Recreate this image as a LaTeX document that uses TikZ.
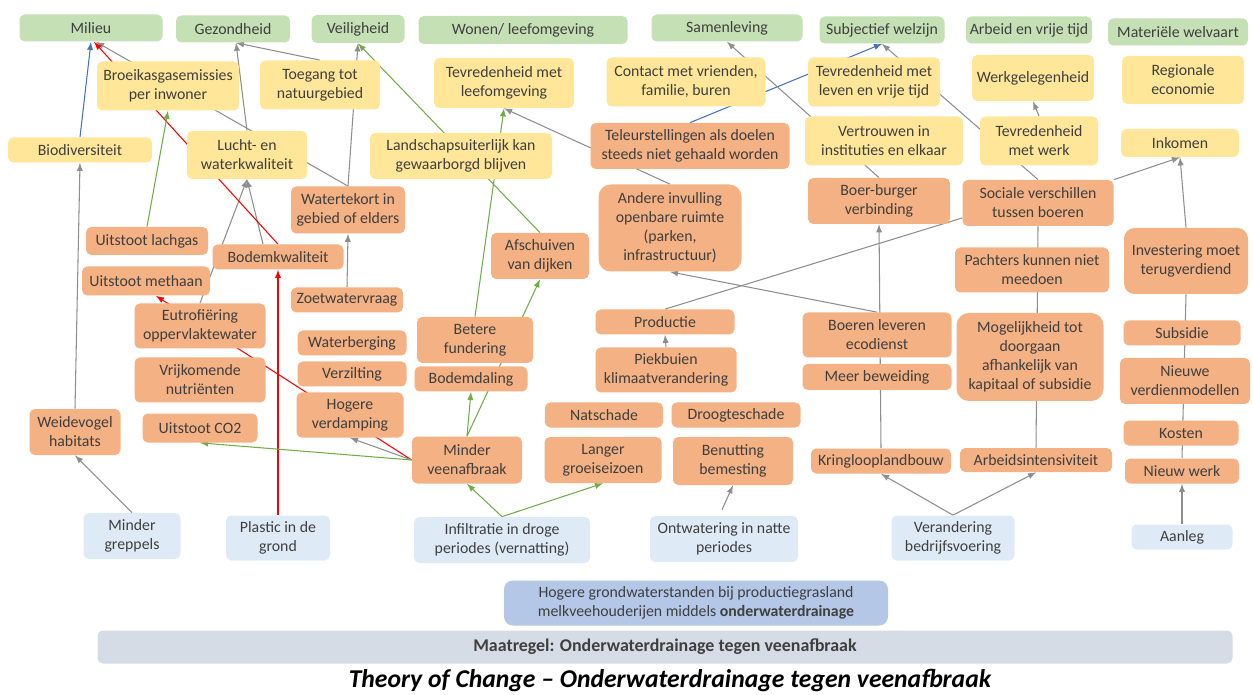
\documentclass[tikz,border=0pt]{standalone}
\usepackage{fontspec}
\setmainfont{Carlito}
\usetikzlibrary{backgrounds,calc}

\definecolor{groen}{HTML}{C5E0B4}
\definecolor{geel}{HTML}{FFE699}
\definecolor{oranje}{HTML}{F4B183}
\definecolor{lichtblauw}{HTML}{DEEBF7}
\definecolor{middenblauw}{HTML}{B4C7E7}
\definecolor{balk}{HTML}{D6DCE5}
\definecolor{tekst}{HTML}{3F3F3F}
\definecolor{lijngrijs}{HTML}{8E8E8E}
\definecolor{lijngroen}{HTML}{70AD47}
\definecolor{lijnrood}{HTML}{FF0000}
\definecolor{lijnblauw}{HTML}{4472C4}

\tikzset{
  vak/.style={rounded corners=3pt, inner sep=1pt, align=center, text=tekst,
    font=\fontsize{9}{10.8}\selectfont},
  thema/.style={vak, fill=groen},
  indicator/.style={vak, fill=geel},
  effect/.style={vak, fill=oranje},
  oorzaak/.style={vak, fill=lichtblauw},
  sz/.style 2 args={minimum width=#1*0.02cm, minimum height=#2*0.02cm},
  pijl/.style={->, line width=0.6pt, lijngrijs},
  lijn/.style={line width=0.6pt, lijngrijs},
  groenpijl/.style={->, line width=0.6pt, lijngroen},
  roodpijl/.style={->, line width=0.6pt, lijnrood},
  blauwpijl/.style={->, line width=0.6pt, lijnblauw},
}

\begin{document}
\begin{tikzpicture}[x=0.02cm, y=-0.02cm]
    \tikzset{>=latex}
    \useasboundingbox (0,0) rectangle (1253,695);

    % thema's
    \node[thema, sz={143}{27}] (milieu) at (91,28) {Milieu};
    \node[thema, sz={114}{27}] (gezond) at (233,29) {Gezondheid};
    \node[thema, sz={93}{28}] (veilig) at (358,29) {Veiligheid};
    \node[thema, sz={209}{28}] (wonen) at (523,30) {Wonen/ leefomgeving};
    \node[thema, sz={151}{27}] (samen) at (727,28) {Samenleving};
    \node[thema, sz={125}{27}] (subj) at (882,30) {Subjectief welzijn};
    \node[thema, sz={126}{27}] (arbeid) at (1029,30) {Arbeid en vrije tijd};
    \node[thema, sz={140}{27}] (materieel) at (1178,32) {Materiële welvaart};

    % indicatoren
    \node[indicator, sz={142}{49}] (broeikas) at (168,86) {Broeikasgasemissies\\per inwoner};
    \node[indicator, sz={120}{49}] (toegang) at (320,85) {Toegang tot\\natuurgebied};
    \node[indicator, sz={140}{50}] (tevleef) at (504,83) {Tevredenheid met\\leefomgeving};
    \node[indicator, sz={159}{49}] (contact) at (686,82) {Contact met vrienden,\\familie, buren};
    \node[indicator, sz={132}{49}] (tevleven) at (874,82) {Tevredenheid met\\leven en vrije tijd};
    \node[indicator, sz={122}{46}] (werkgel) at (1033,78) {Werkgelegenheid};
    \node[indicator, sz={122}{48}] (regio) at (1183,80) {Regionale\\economie};
    \node[indicator, sz={144}{25}] (biodiv) at (80,150) {Biodiversiteit};
    \node[indicator, sz={120}{48}] (lucht) at (247,155) {Lucht- en\\waterkwaliteit};
    \node[indicator, sz={182}{46}] (landschap) at (461,156) {Landschapsuiterlijk kan\\gewaarborgd blijven};
    \node[indicator, sz={158}{49}] (vertrouwen) at (884,141) {Vertrouwen in\\instituties en elkaar};
    \node[indicator, sz={118}{49}] (tevwerk) at (1039,141) {Tevredenheid\\met werk};
    \node[indicator, sz={118}{28}] (inkomen) at (1180,143) {Inkomen};

    % effecten
    \node[effect, sz={199}{46}] (teleur) at (690,146) {Teleurstellingen als doelen\\steeds niet gehaald worden};
    \node[effect, sz={114}{47}] (watertekort) at (348,210) {Watertekort in\\gebied of elders};
    \node[effect, sz={143}{87}, rounded corners=7pt] (andere) at (670,228) {Andere invulling\\openbare ruimte\\(parken,\\infrastructuur)};
    \node[effect, sz={142}{46}] (boerburger) at (879,201) {Boer-burger\\verbinding};
    \node[effect, sz={151}{46}] (sociaal) at (1038,203) {Sociale verschillen\\tussen boeren};
    \node[effect, sz={98}{46}] (afschuiven) at (540,256) {Afschuiven\\van dijken};
    \node[effect, sz={122}{28}] (lachgas) at (147,241) {Uitstoot lachgas};
    \node[effect, sz={131}{25}] (bodemkw) at (278,257) {Bodemkwaliteit};
    \node[effect, sz={128}{29}] (methaan) at (146,281) {Uitstoot methaan};
    \node[effect, sz={112}{25}] (zoetwater) at (347,300) {Zoetwatervraag};
    \node[effect, sz={154}{45}] (pachters) at (1032,270) {Pachters kunnen niet\\meedoen};
    \node[effect, sz={124}{66}, rounded corners=6pt] (investering) at (1186,261) {Investering moet\\terugverdiend};
    \node[effect, sz={131}{45}] (eutrof) at (200,326) {Eutrofiëring\\oppervlaktewater};
    \node[effect, sz={109}{25}] (waterberging) at (352,343) {Waterberging};
    \node[effect, sz={116}{46}] (fundering) at (475,340) {Betere\\fundering};
    \node[effect, sz={139}{25}] (productie) at (665,322) {Productie};
    \node[effect, sz={149}{45}] (ecodienst) at (877,335) {Boeren leveren\\ecodienst};
    \node[effect, sz={147}{88}, rounded corners=7pt] (mogelijk) at (1030,357) {Mogelijkheid tot\\doorgaan\\afhankelijk van\\kapitaal of subsidie};
    \node[effect, sz={117}{25}] (subsidie) at (1182,333) {Subsidie};
    \node[effect, sz={131}{45}] (nutrient) at (200,380) {Vrijkomende\\nutriënten};
    \node[effect, sz={109}{25}] (verzilting) at (352,374) {Verzilting};
    \node[effect, sz={113}{25}] (bodemdaling) at (471,379) {Bodemdaling};
    \node[effect, sz={141}{45}] (piekbuien) at (666,370) {Piekbuien\\klimaatverandering};
    \node[effect, sz={149}{26}] (beweiding) at (877,377) {Meer beweiding};
    \node[effect, sz={130}{46}] (verdien) at (1185,381) {Nieuwe\\verdienmodellen};
    \node[effect, sz={91}{46}] (weidevogel) at (75,432) {Weidevogel\\habitats};
    \node[effect, sz={115}{29}] (co2) at (200,428) {Uitstoot CO2};
    \node[effect, sz={107}{45}] (verdamping) at (350,415) {Hogere\\verdamping};
    \node[effect, sz={118}{25}] (natschade) at (604,415) {Natschade};
    \node[effect, sz={129}{25}] (droogte) at (736,415) {Droogteschade};
    \node[effect, sz={115}{25}] (kosten) at (1181,433) {Kosten};
    \node[effect, sz={110}{47}] (veenafbraak) at (467,460) {Minder\\veenafbraak};
    \node[effect, sz={117}{46}] (groeiseizoen) at (603,460) {Langer\\groeiseizoen};
    \node[effect, sz={120}{48}] (bemesting) at (733,461) {Benutting\\bemesting};
    \node[effect, sz={140}{25}] (kringloop) at (881,461) {Kringlooplandbouw};
    \node[effect, sz={152}{24}] (arbeidsint) at (1036,460) {Arbeidsintensiviteit};
    \node[effect, sz={114}{25}] (nieuwwerk) at (1182,471) {Nieuw werk};

    % oorzaken
    \node[oorzaak, sz={97}{46}] (greppels) at (132,536) {Minder\\greppels};
    \node[oorzaak, sz={104}{45}] (plastic) at (278,538) {Plastic in de\\grond};
    \node[oorzaak, sz={176}{46}] (infiltratie) at (502,540) {Infiltratie in droge\\periodes (vernatting)};
    \node[oorzaak, sz={148}{46}] (ontwatering) at (724,539) {Ontwatering in natte\\periodes};
    \node[oorzaak, sz={123}{45}] (verandering) at (953,538) {Verandering\\bedrijfsvoering};
    \node[oorzaak, sz={101}{25}] (aanleg) at (1182,537) {Aanleg};

    \node[vak, fill=middenblauw, sz={384}{45}, rounded corners=5pt] (grondwater) at (696,603)
        {Hogere grondwaterstanden bij productiegrasland\\melkveehouderijen middels \textbf{onderwaterdrainage}};
    \node[vak, fill=balk, sz={1135}{33}, font=\fontsize{10.2}{12}\selectfont\bfseries] (maatregel) at (665,647)
        {Maatregel: Onderwaterdrainage tegen veenafbraak};
    \node[font=\fontsize{14.6}{17}\selectfont\bfseries\itshape, inner sep=0pt] (titel) at (670,681)
        {Theory of Change -- Onderwaterdrainage tegen veenafbraak};

    \begin{scope}[on background layer]
        \draw[pijl] (greppels.north) -- (weidevogel.south);
        \draw[pijl] (weidevogel.north) -- (biodiv.south);
        \draw[blauwpijl] (biodiv.north) -- (milieu.south);
        \draw[pijl] (watertekort.north) -- ($(milieu.south)+(5,0)$);
        \draw[pijl] (watertekort.north) -- (veilig.south);
        \draw[pijl] (lucht.north) -- ($(gezond.south)+(3,0)$);
        \draw[pijl] (toegang.north) -- ($(gezond.south)+(3,0)$);
        \draw[pijl] (eutrof.north) -- (lucht.south);
        \draw[pijl] ($(bodemkw.north)+(-15,0)$) -- (lucht.south);
        \draw[pijl] (zoetwater.north) -- (watertekort.south);
        \draw[roodpijl] (plastic.north) -- (bodemkw.south);
        \draw[roodpijl] (bodemkw.north) -- ($(milieu.south)+(3,0)$);
        \draw[roodpijl] (veenafbraak.west) -- ($(methaan.south)+(10,0)$);
        \draw[groenpijl] (lachgas.north) -- (broeikas.south);
        \draw[pijl] (veenafbraak.west) -- (verdamping.south);
        \draw[groenpijl] (veenafbraak.west) -- (co2.south);
        \draw[groenpijl] (veenafbraak.north) -- (bodemdaling.south);
        \draw[groenpijl] (veenafbraak.north) -- (afschuiven.south);
        \draw[groenpijl] (fundering.north) -- (tevleef.south);
        \draw[groenpijl] (afschuiven.north) -- (veilig.south);
        \draw[groenpijl] (infiltratie.north) -- (veenafbraak.south);
        \draw[groenpijl] (infiltratie.north) -- (groeiseizoen.south);
        \draw[pijl] (andere.north) -- (tevleef.south);
        \draw[blauwpijl] (teleur.north) -- (subj.south);
        \draw[pijl] (boerburger.north) -- (samen.south);
        \draw[pijl] (sociaal.north) -- (subj.south);
        \draw[pijl] (tevwerk.north) -- (werkgel.south);
        \draw[pijl] (sociaal.north east) -- (inkomen.south);
        \draw[pijl] (investering.north) -- (inkomen.south);
        \draw[lijn] (productie.north) -- ($(sociaal.west)+(0,15)$);
        \draw[pijl] (ecodienst.north) -- (andere.south);
        \draw[pijl] (kringloop.north) -- (boerburger.south);
        \draw[pijl] (piekbuien.north) -- (productie.south);
        \draw[pijl] ($(ontwatering.north)+(-2,-6)$) -- (bemesting.south);
        \draw[pijl] (verandering.north) -- (kringloop.south);
        \draw[pijl] (verandering.north) -- (arbeidsint.south);
        \draw[pijl] (aanleg.north) -- (nieuwwerk.south);
        \draw[lijn] (nieuwwerk.north) -- (investering.south);
        \draw[lijn] (arbeidsint.north) -- (sociaal.south);
    \end{scope}
\end{tikzpicture}
\end{document}
